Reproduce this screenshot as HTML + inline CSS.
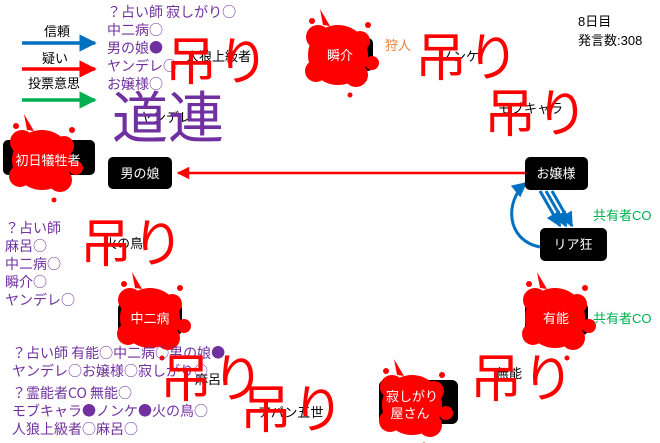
<!DOCTYPE html>
<html><head><meta charset="utf-8"><style>
html,body{margin:0;padding:0;background:#fff;}
svg{display:block;font-family:"Liberation Sans","Noto Sans CJK JP",sans-serif;}
.p{fill:#7030a0;font-size:14px;font-family:"Noto Sans CJK JP",sans-serif;}
.k{fill:#000;font-size:13px;}
.w{fill:#fff;font-size:13px;}
.r{fill:#ff0000;font-size:52px;font-family:"Noto Sans CJK JP",sans-serif;}
</style></head><body>
<svg width="660" height="443" viewBox="0 0 660 443">
<defs>
<g id="sp">
<circle r="30" fill="#f00"/>
<circle cx="-20" cy="-18" r="12" fill="#f00"/>
<circle cx="18" cy="20" r="12" fill="#f00"/>
<circle cx="-22" cy="16" r="11" fill="#f00"/>
<circle cx="22" cy="-14" r="10" fill="#f00"/>
<circle cx="34" cy="8" r="7" fill="#f00"/>
<circle cx="-26" cy="-34" r="3" fill="#f00"/>
<circle cx="30" cy="-30" r="3" fill="#f00"/>
<circle cx="12" cy="40" r="2.5" fill="#f00"/>
<path d="M-15,-30 L-18,-46 L-8,-29Z" fill="#f00"/>
</g>
<marker id="ar" viewBox="0 0 10 10" refX="9" refY="5" markerWidth="5" markerHeight="5" orient="auto"><path d="M0,0L10,5L0,10Z" fill="#f00"/></marker>
<marker id="ab" viewBox="0 0 10 10" refX="9" refY="5" markerWidth="5" markerHeight="5" orient="auto"><path d="M0,0L10,5L0,10Z" fill="#0070c0"/></marker>
<marker id="ag" viewBox="0 0 10 10" refX="9" refY="5" markerWidth="5" markerHeight="5" orient="auto"><path d="M0,0L10,5L0,10Z" fill="#00b050"/></marker>
</defs>

<text x="44" y="36" class="k">信頼</text>
<line x1="22" y1="43" x2="95" y2="43" stroke="#0070c0" stroke-width="3.5" marker-end="url(#ab)"/>
<text x="42" y="63" class="k">疑い</text>
<line x1="22" y1="69" x2="95" y2="69" stroke="#f00" stroke-width="3.5" marker-end="url(#ar)"/>
<text x="28" y="88" class="k">投票意思</text>
<line x1="22" y1="100" x2="95" y2="100" stroke="#00b050" stroke-width="3.5" marker-end="url(#ag)"/>

<text class="p" x="107" y="17">？占い師 寂しがり○</text>
<text class="p" x="107" y="35">中二病○</text>
<text class="p" x="107" y="53">男の娘●</text>
<text class="p" x="107" y="71">ヤンデレ○</text>
<text class="p" x="107" y="89">お嬢様○</text>

<text x="578" y="26" class="k">8日目</text>
<text x="578" y="45" class="k">発言数:308</text>

<line x1="525" y1="173" x2="178" y2="173" stroke="#f00" stroke-width="2.5" marker-end="url(#ar)"/>
<g stroke="#0070c0" stroke-width="3" marker-end="url(#ab)">
<line x1="540" y1="191" x2="560" y2="226"/>
<line x1="546" y1="191" x2="566" y2="226"/>
<line x1="552" y1="191" x2="572" y2="226"/>
<path d="M540,247 C505,240 505,200 526,183" fill="none"/>
</g>

<rect x="3" y="140" width="92" height="35" rx="5" fill="#000"/>
<rect x="108" y="157" width="64" height="32" rx="5" fill="#000"/>
<text x="140" y="178" class="w" text-anchor="middle">男の娘</text>
<rect x="525" y="157" width="63" height="33" rx="5" fill="#000"/>
<text x="556" y="178" class="w" text-anchor="middle">お嬢様</text>
<rect x="540" y="228" width="67" height="33" rx="5" fill="#000"/>
<text x="573" y="249" class="w" text-anchor="middle">リア狂</text>
<rect x="313" y="38" width="60" height="33" rx="5" fill="#000"/>
<rect x="118" y="303" width="64" height="32" rx="5" fill="#000"/>
<rect x="525" y="303" width="63" height="32" rx="5" fill="#000"/>
<rect x="379" y="380" width="79" height="44" rx="6" fill="#000"/>

<use href="#sp" x="42" y="160"/>
<use href="#sp" x="338" y="55"/>
<use href="#sp" x="150" y="318"/>
<use href="#sp" x="555" y="318"/>
<use href="#sp" x="412" y="405"/>

<text x="48" y="165" class="w" text-anchor="middle">初日犠牲者</text>
<text x="340" y="60" class="w" text-anchor="middle">瞬介</text>
<text x="150" y="323" class="w" text-anchor="middle">中二病</text>
<text x="556" y="323" class="w" text-anchor="middle">有能</text>
<text x="412" y="401" class="w" text-anchor="middle">寂しがり</text>
<text x="410" y="418" class="w" text-anchor="middle">屋さん</text>

<text x="385" y="50" fill="#ed7d31" font-size="13">狩人</text>
<text x="593" y="220" fill="#00b050" font-size="13">共有者CO</text>
<text x="593" y="323" fill="#00b050" font-size="13">共有者CO</text>

<text x="186" y="61" class="k">人狼上級者</text>
<text x="140" y="122" class="k">ヤンデレ</text>
<text x="440" y="61" class="k">ノンケ</text>
<text x="498" y="113" class="k">モブキャラ</text>
<text x="104" y="248" class="k">火の鳥</text>
<text x="195" y="384" class="k">麻呂</text>
<text x="258" y="417" class="k">アパン五世</text>
<text x="496" y="378" class="k">無能</text>

<text class="p" x="5" y="233">？占い師</text>
<text class="p" x="5" y="251">麻呂○</text>
<text class="p" x="5" y="269">中二病○</text>
<text class="p" x="5" y="287">瞬介○</text>
<text class="p" x="5" y="305">ヤンデレ○</text>
<text class="p" x="12" y="358">？占い師 有能○中二病○男の娘●</text>
<text class="p" x="12" y="376">ヤンデレ○お嬢様○寂しがり○</text>
<text class="p" x="12" y="398">？霊能者CO 無能○</text>
<text class="p" x="12" y="416">モブキャラ●ノンケ●火の鳥○</text>
<text class="p" x="12" y="434">人狼上級者○麻呂○</text>

<text x="112" y="138" fill="#7030a0" font-size="56" font-family="Noto Sans CJK JP,sans-serif">道連</text>

<text class="r" x="165" y="80">吊り</text>
<text class="r" x="415" y="76">吊り</text>
<text class="r" x="484" y="132">吊り</text>
<text class="r" x="80" y="262">吊り</text>
<text class="r" x="160" y="397">吊り</text>
<text class="r" x="240" y="428">吊り</text>
<text class="r" x="470" y="397">吊り</text>
</svg>
</body></html>
